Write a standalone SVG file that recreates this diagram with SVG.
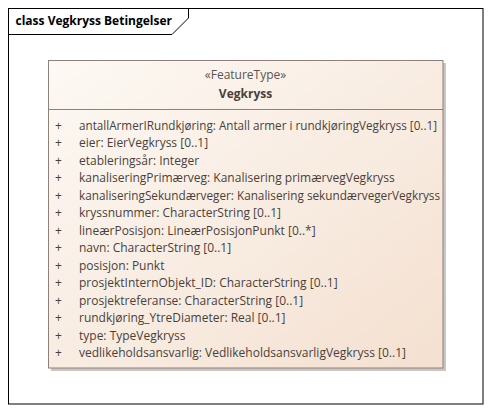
<svg xmlns="http://www.w3.org/2000/svg" width="493" height="412" viewBox="0 0 493 412">
<defs>
<linearGradient id="fillG" x1="0" y1="0" x2="1" y2="1">
<stop offset="0" stop-color="#fdf9f4"/>
<stop offset="1" stop-color="#f4e0d0"/>
</linearGradient>
<style>
.t{font-family:"Open Sans","Noto Sans",sans-serif;font-size:12px;fill:#4a3f3a}
.b{font-weight:bold}
.s{fill:#5c5450}
.p{font-family:"Open Sans","Noto Sans",sans-serif;font-size:12px;fill:#4a3f3a}
</style>
</defs>
<rect x="0" y="0" width="493" height="412" fill="#ffffff"/>
<g id="frame">
<rect x="8.5" y="8.5" width="474.5" height="395.5" fill="none" stroke="#000" stroke-width="1"/>
<path d="M8.5 34.5 H172 L188.5 18 V8.5" fill="none" stroke="#000" stroke-width="1"/>
<text class="t b" x="15.5" y="25" style="fill:#000">class Vegkryss Betingelser</text>
</g>
<g id="Vegkryss">
<rect x="51" y="63" width="395" height="308" fill="#c9c6c4"/>
<rect x="48.5" y="60.5" width="394.5" height="307.5" fill="url(#fillG)" stroke="#8f8079" stroke-width="1"/>
<line x1="48.5" y1="109.5" x2="443" y2="109.5" stroke="#8f8079" stroke-width="1"/>
<text class="t s" x="245.5" y="79" text-anchor="middle">«FeatureType»</text>
<text class="t b" x="245.5" y="98" text-anchor="middle">Vegkryss</text>
<g class="p">
<text x="55" y="129.5">+</text>
<text x="55" y="147">+</text>
<text x="55" y="164.5">+</text>
<text x="55" y="182">+</text>
<text x="55" y="199.5">+</text>
<text x="55" y="217">+</text>
<text x="55" y="234.5">+</text>
<text x="55" y="252">+</text>
<text x="55" y="269.5">+</text>
<text x="55" y="287">+</text>
<text x="55" y="304.5">+</text>
<text x="55" y="322">+</text>
<text x="55" y="339.5">+</text>
<text x="55" y="357">+</text>
</g>
<g class="p">
<text x="79" y="129.5" textLength="358" lengthAdjust="spacingAndGlyphs">antallArmerIRundkjøring: Antall armer i rundkjøringVegkryss [0..1]</text>
<text x="79" y="147">eier: EierVegkryss [0..1]</text>
<text x="79" y="164.5">etableringsår: Integer</text>
<text x="79" y="182">kanaliseringPrimærveg: Kanalisering primærvegVegkryss</text>
<text x="79" y="199.5" textLength="361" lengthAdjust="spacingAndGlyphs">kanaliseringSekundærveger: Kanalisering sekundærvegerVegkryss</text>
<text x="79" y="217">kryssnummer: CharacterString [0..1]</text>
<text x="79" y="234.5">lineærPosisjon: LineærPosisjonPunkt [0..*]</text>
<text x="79" y="252">navn: CharacterString [0..1]</text>
<text x="79" y="269.5">posisjon: Punkt</text>
<text x="79" y="287">prosjektInternObjekt_ID: CharacterString [0..1]</text>
<text x="79" y="304.5">prosjektreferanse: CharacterString [0..1]</text>
<text x="79" y="322">rundkjøring_YtreDiameter: Real [0..1]</text>
<text x="79" y="339.5">type: TypeVegkryss</text>
<text x="79" y="357">vedlikeholdsansvarlig: VedlikeholdsansvarligVegkryss [0..1]</text>
</g>
</g>
<g id="connectors"/>
</svg>
